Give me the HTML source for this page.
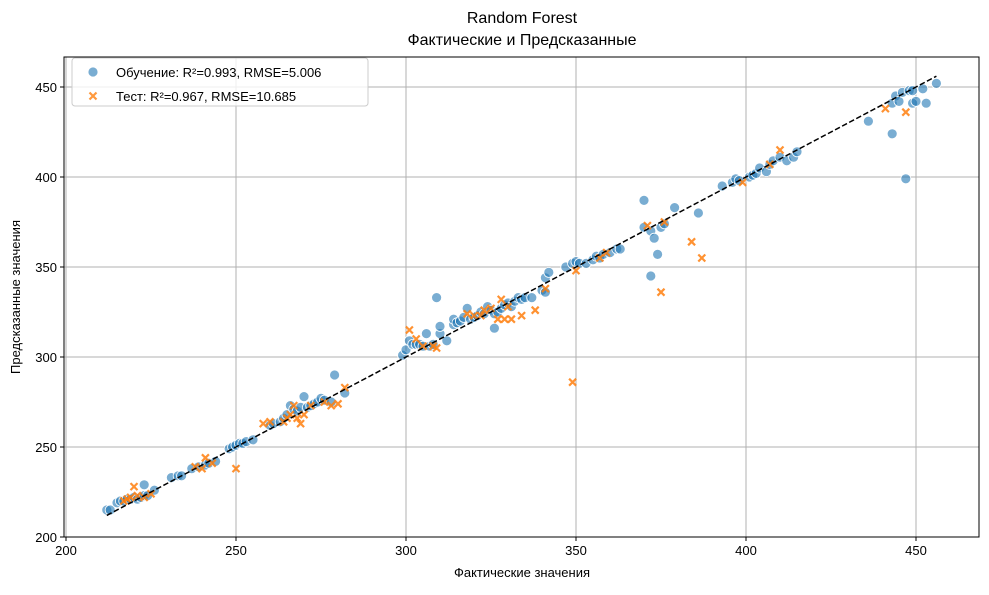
<!DOCTYPE html>
<html><head><meta charset="utf-8"><style>
body{margin:0;background:#fff;}
svg text{font-family:"Liberation Sans","DejaVu Sans",sans-serif;}
</style></head><body>
<svg id="chart" width="989" height="590" xmlns="http://www.w3.org/2000/svg">
<rect width="989" height="590" fill="#fff"/>
<g id="grid"></g><g id="marks"></g><g id="axes"></g>
<text x="522" y="23" text-anchor="middle" font-size="16">Random Forest</text>
<text x="522" y="45" text-anchor="middle" font-size="16">Фактические и Предсказанные</text>
<text x="522" y="577" text-anchor="middle" font-size="13">Фактические значения</text>
<text x="20" y="297" text-anchor="middle" font-size="13" transform="rotate(-90 20 297)">Предсказанные значения</text>
<g>
<rect x="72" y="58" width="296" height="48" rx="3" fill="#fff" fill-opacity="0.8" stroke="#ccc"/>
<circle cx="93" cy="72" r="5" fill="#1f77b4" fill-opacity="0.6" stroke="#fff" stroke-width="0.8"/>
<text x="116" y="77" font-size="13">Обучение: R²=0.993, RMSE=5.006</text>
<path d="M89.5,92.5l7,7M96.5,92.5l-7,7" stroke="#ff7f0e" stroke-opacity="0.8" stroke-width="2.2"/>
<text x="116" y="101" font-size="13">Тест: R²=0.967, RMSE=10.685</text>
</g>
</svg>
<script>
const xTicks=[200,250,300,350,400,450];
const yTicks=[200,250,300,350,400,450];
const trainX=[212,213,215,216,217,218,219,220,221,222,223,223,224,226,231,233,234,237,239,241,242,244,248,249,250,251,252,253,255,260,261,263,264,265,266,267,268,269,270,271,272,273,274,275,276,278,279,282,299,300,301,302,303,304,305,306,307,308,309,310,310,312,314,314,315,316,317,318,319,320,321,322,323,324,325,326,326,327,328,329,330,331,332,333,334,335,337,340,341,342,341,347,349,350,351,353,355,356,357,358,360,362,363,370,370,372,372,373,374,375,376,379,386,393,396,397,398,401,402,403,404,406,407,408,410,412,414,415,436,443,443,444,445,446,447,448,449,449,450,452,453,456];
const trainY=[215,215,219,220,220,221,221,222,221,222,229,223,223,226,233,234,234,238,239,240,241,242,249,250,251,252,252,253,254,262,263,264,266,268,273,271,270,272,278,272,273,274,275,277,276,275,290,280,301,304,309,307,307,307,306,313,306,307,333,313,317,309,318,321,319,320,322,327,321,322,323,325,324,328,326,324,316,325,327,329,330,328,331,333,332,333,333,337,344,347,336,350,352,353,352,352,354,356,355,357,358,360,360,372,387,370,345,366,357,372,374,383,380,395,397,399,398,400,401,402,405,403,407,409,411,409,411,414,431,424,441,445,442,447,399,448,441,448,442,449,441,452];
const testX=[217,218,219,220,221,223,225,238,240,241,243,250,258,260,264,265,266,267,268,269,270,272,276,278,280,282,301,303,305,308,309,318,320,322,323,325,327,328,329,330,331,334,338,341,349,350,357,359,371,375,376,384,387,399,407,410,441,447];
const testY=[220,221,222,228,223,222,224,239,238,244,241,238,263,264,264,266,268,273,266,263,268,273,275,273,274,283,315,310,306,306,305,324,323,323,326,327,321,332,321,328,321,323,326,338,286,348,355,358,373,336,375,364,355,397,407,415,438,436];
const lineRange=[212,456];
const X0=66,XS=3.4,XMIN=200,Y0=537,YS=1.8,YMIN=200;
const L=64,R=979,T=57,B=537;
function sx(v){return X0+(v-XMIN)*XS;}
function sy(v){return Y0-(v-YMIN)*YS;}
const NS='http://www.w3.org/2000/svg';
function mk(t,a,p){const e=document.createElementNS(NS,t);for(const k in a)e.setAttribute(k,a[k]);p.appendChild(e);return e;}
const grid=document.getElementById('grid'),marks=document.getElementById('marks'),axes=document.getElementById('axes');
xTicks.forEach(v=>{const x=sx(v);
const g=mk('line',{x1:x,x2:x,y1:T,y2:B,stroke:'#b0b0b0','stroke-width':1},grid);


mk('line',{x1:x,x2:x,y1:B,y2:B+4,stroke:'#000'},axes);
const t=mk('text',{x:x,y:B+18,'text-anchor':'middle','font-size':13},axes);t.textContent=v;

});
yTicks.forEach(v=>{const y=sy(v);
const g=mk('line',{x1:L,x2:R,y1:y,y2:y,stroke:'#b0b0b0','stroke-width':1},grid);


mk('line',{x1:L-4,x2:L,y1:y,y2:y,stroke:'#000'},axes);
const t=mk('text',{x:L-7,y:y+5,'text-anchor':'end','font-size':13},axes);t.textContent=v;

});
const fr=mk('rect',{x:L,y:T,width:R-L,height:B-T,fill:'none',stroke:'#000','stroke-width':1},axes);


trainX.forEach((v,i)=>{const c=mk('circle',{cx:sx(v),cy:sy(trainY[i]),r:5,fill:'#1f77b4','fill-opacity':0.6,stroke:'#fff','stroke-width':0.8},marks);

});
testX.forEach((v,i)=>{const x=sx(v),y=sy(testY[i]);
const p=mk('path',{d:`M${x-3.5},${y-3.5}l7,7M${x+3.5},${y-3.5}l-7,7`,stroke:'#ff7f0e','stroke-opacity':0.85,'stroke-width':2.2},marks);

});
const ln=mk('line',{x1:sx(lineRange[0]),y1:sy(lineRange[0]),x2:sx(lineRange[1]),y2:sy(lineRange[1]),stroke:'#000','stroke-width':1.5,'stroke-dasharray':'5.5,2.5'},marks);


</script>
</body></html>
